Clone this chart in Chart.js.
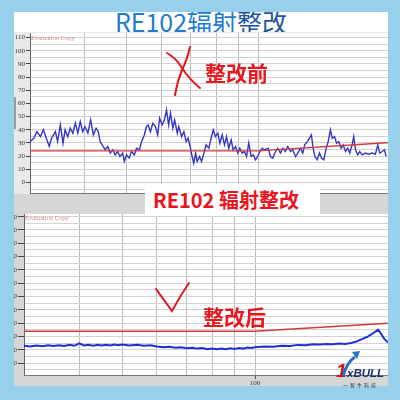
<!DOCTYPE html>
<html>
<head>
<meta charset="utf-8">
<script src="https://cdn.jsdelivr.net/npm/chart.js@4"></script>
<style>
body { margin: 0; width: 400px; height: 400px; background: #98d0ec; position: relative; overflow: hidden; font-family: "Noto Sans CJK SC", "Noto Sans", sans-serif; }
#panel { position: absolute; left: 14px; top: 12px; width: 374px; height: 374px; background: #d6d6d6; overflow: hidden; }
#titleBand { position: absolute; left: 0; top: 0; width: 374px; height: 20px; background: #fff; }
#title { position: absolute; left: 0; top: -6px; width: 374px; text-align: center; font-size: 25px; line-height: 30px; color: #1f7ccc; }
#title span { color: #1c5598; }
canvas { position: absolute; }
#topWrap { left: 0; top: 20px; background: #e9e9e9; }
#botWrap { left: -6px; top: 201px; }
.evalc { position: absolute; font-family: "Liberation Serif", serif; font-size: 6.5px; color: #cf8a8a; }
.big { position: absolute; font-weight: 700; color: #e8161e; font-size: 21px; line-height: 24px; white-space: nowrap; }
#midBox { position: absolute; left: 145px; top: 184px; width: 175px; height: 32px; background: #fff; }
#logo1 { position: absolute; left: 336px; top: 360px; font-family: "Liberation Sans", sans-serif; font-style: italic; font-weight: 700; font-size: 19px; color: #d3141c; }
#logo2 { position: absolute; left: 347px; top: 367px; font-family: "Liberation Sans", sans-serif; font-style: italic; font-weight: 700; font-size: 11.5px; color: #1d2f6a; }
#logo3 { position: absolute; left: 343px; top: 381px; font-size: 5px; color: #333; letter-spacing: 2px; }
</style>
</head>
<body>
<div id="panel">
  <div id="titleBand"></div>
  <div id="title">RE102辐射<span>整改</span></div>
  <canvas id="topWrap" width="376" height="162"></canvas>
  <canvas id="botWrap" width="380" height="175"></canvas>
  <div style="position:absolute;left:0;top:85px;width:2px;height:32px;background:#9a9a9a"></div>
</div>
<div class="evalc" style="left:31px;top:34px">Evaluation Copy</div>
<div class="evalc" style="left:25px;top:214px">Evaluation Copy</div>
<div class="big" style="left:205px;top:60px">整改前</div>
<div id="midBox"></div>
<div class="big" style="left:153px;top:188px;font-size:20px">RE102 辐射整改</div>
<div class="big" style="left:203px;top:304px">整改后</div>
<div id="logo1">1</div>
<div id="logo2">xBULL</div>
<div id="logo3">一智牛科技</div>
<svg width="400" height="400" style="position:absolute;left:0;top:0" fill="none">
  <path d="M167,53 Q176,58 182,68 Q190,80 200,88" stroke="#e3141a" stroke-width="2" stroke-linecap="round"/>
  <path d="M190,47 Q187,60 182,70 Q177,82 175,95" stroke="#e3141a" stroke-width="2" stroke-linecap="round"/>
  <path d="M156,289 Q164,300 172,311 Q180,296 189,283" stroke="#e3141a" stroke-width="2" stroke-linecap="round"/>
  <path d="M343,376 Q347,362 355,357" stroke="#2a6fc2" stroke-width="3"/>
  <polygon points="352,352 360,351 357,359" fill="#2a6fc2"/>
</svg>
<script>
// top trace (before fix)
const topFreq = [30.0,30.6,31.1,31.7,32.2,32.8,33.2,33.6,34.3,34.7,35.2,35.7,36.1,36.6,37.1,37.6,38.1,38.6,39.1,39.6,
  40.1,40.7,41.3,41.9,42.5,43.0,43.4,43.9,44.6,45.2,45.8,46.4,47.0,47.6,48.2,48.9,49.3,49.9,50.6,51.2,
  52.0,52.6,53.4,54.0,54.8,55.4,55.9,56.6,57.3,58.1,58.8,59.4,60.2,60.9,61.6,62.3,62.9,63.7,64.3,65.2,
  65.7,66.7,67.5,68.3,69.0,69.9,70.5,71.1,71.8,72.4,73.3,74.1,75.0,75.9,77.0,77.9,78.8,79.7,80.7,81.6,
  82.6,83.6,84.5,85.5,86.6,87.5,88.6,89.7,90.6,91.8,92.9,93.9,95.0,96.2,97.3,98.4,99.6,100.7,102.0,103.2,
  105.3,106.5,107.8,109.4,110.7,112.3,113.7,115.3,116.7,118.4,119.8,121.6,123.0,124.8,126.3,127.6,129.3,130.9,132.2,133.4,
  134.6,136.3,137.9,139.4,141.1,142.9,144.4,146.1,147.5,149.3,150.9,152.7,154.6,156.3,158.2,160.1,161.8,163.8,165.2,166.7,
  168.7,170.5,172.7,175.7,178.8,182.1,185.2,187.5,189.5,191.9,194.2,196.0];
const topLevel = [31,33.6,38.6,34.8,40,32.3,27.3,33.6,38.6,31,43.7,29.8,40,34.8,41.2,37.4,45,37.4,46.2,38.6,
  42.4,37.4,47.5,36.1,41.2,38.6,31,28.6,24.8,27.3,22.3,24.8,21,23.5,19.7,22.3,15.9,21,18.5,23.5,
  21,26,24.8,31,36.1,42.4,43.7,38.6,45,42.4,36.1,48.8,43.7,47.5,55,43.7,52.6,41.2,47.5,37.4,
  42.4,34.8,38.6,31,33.6,26,19.7,14.7,22.3,15.9,19.7,15.9,22.3,28.6,26,33.6,40,34.8,37.4,29.8,
  36.1,28.6,34.8,26,32.3,24.8,27.3,22.3,26,22.3,23.5,19.7,30,19.7,21,17.2,19.7,23.5,26,24.8,
  26,19.7,18.5,23.5,26,22.3,26,23.5,27.3,23.5,24.8,19.7,22.3,26,22.3,28.6,31,33.6,36.1,26,
  19.7,17.2,22.3,18.5,17.2,26,31,40,33.6,34.8,29.8,31,26,28.6,23.5,26,22.3,28.6,34.8,24.8,
  21,23.5,21,22.3,21.5,22.3,21.5,28.6,22.3,23.5,24.8,19.7];

// bottom trace (after fix)
const botFreq = [30,31,32,33,34,35,36,37,38,39,40,41,42,43,44,45,46,47,48,49,50,
  52,54,56,58,60,62,64,66,68,70,72,74,76,78,80,82,84,86,88,90,92,94,96,98,100,
  105,110,115,120,125,130,135,140,145,150,155,160,165,170,175,180,185,190,193,196,200];
const botLevel = [13.2,12.6,13.4,12.8,13.5,12.9,13.6,13.0,13.8,13.1,15.0,13.4,13.8,13.2,13.9,13.3,13.9,13.4,14.0,13.5,14.1,
  13.4,13.9,13.2,13.6,12.6,12.0,12.4,11.6,12.0,11.3,11.7,11.0,11.4,10.6,11.0,10.5,11.1,10.6,11.2,10.8,11.5,11.0,11.8,11.4,12.0,
  12.6,12.4,13.2,13.0,13.8,13.5,14.3,14.0,14.5,14.2,14.8,14.5,15.2,16.4,18.3,20.0,22.5,25.2,22.0,18.5,15.5];

// limit line
const limFreq = [30, 100, 200];
const topLimit = [24, 24, 30.3];
const botLimit = [24, 24, 30];

const yGrid = [-5,0,5,10,15,20,25,30,35,40,45,50,55,60,65,70,75,80,85,90,95,100,105,110];
const xGrid = [40, 50, 60, 70, 80, 90, 100];

const plotBg = {
    id: 'plotBg',
    beforeDraw(chart) {
        const a = chart.chartArea, ctx = chart.ctx;
        ctx.save();
        ctx.fillStyle = '#fff';
        ctx.fillRect(a.left, a.top, a.width, a.height);
        ctx.restore();
    }
};

function pts(xs, ys) {
    return xs.map((x, i) => ({ x: x, y: ys[i] }));
}

function emcChart(id, level, freq, limit, traceColor, traceWidth, yMin, yMax, showX, yTick) {
    new Chart(document.getElementById(id), {
        type: 'line',
        data: {
            datasets: [{
                data: pts(limFreq, limit),
                borderColor: '#d23a3a',
                borderWidth: 1.4
            }, {
                data: pts(freq, level),
                borderColor: traceColor,
                borderWidth: traceWidth
            }]
        },
        options: {
            responsive: false,
            animation: false,
            devicePixelRatio: 1,
            layout: { padding: 0 },
            elements: { point: { radius: 0 }, line: { tension: 0 } },
            plugins: { legend: { display: false }, tooltip: { enabled: false } },
            scales: {
                x: {
                    type: 'logarithmic',
                    min: 30, max: 200,
                    afterBuildTicks: s => { s.ticks = xGrid.map(v => ({ value: v })); },
                    afterFit: s => { s.height = showX ? 13 : 0; },
                    grid: {
                        color: '#bcbcbc',
                        drawTicks: showX,
                        tickLength: 4,
                        tickColor: c => (c.tick && c.tick.value === 100) ? '#555' : 'rgba(0,0,0,0)'
                    },
                    border: { display: true, color: '#777' },
                    ticks: {
                        display: showX,
                        autoSkip: false,
                        maxRotation: 0,
                        padding: 0,
                        color: '#333',
                        font: { family: 'Liberation Serif', size: 7 },
                        callback: v => v === 100 ? '100' : ''
                    }
                },
                y: {
                    min: yMin, max: yMax,
                    afterBuildTicks: s => { s.ticks = yGrid.map(v => ({ value: v })); },
                    afterFit: s => { s.width = 16; },
                    grid: {
                        color: '#d2d2d2',
                        tickLength: yTick,
                        tickColor: c => (c.tick && c.tick.value % 10 === 0) ? '#444' : 'rgba(0,0,0,0)'
                    },
                    border: { display: true, color: '#666' },
                    ticks: {
                        padding: 1,
                        color: '#333',
                        font: { family: 'Liberation Serif', size: 7, lineHeight: 0 },
                        callback: v => v % 10 === 0 ? String(v) : ''
                    }
                }
            }
        },
        plugins: [plotBg]
    });
}

emcChart('topWrap', topLevel, topFreq, topLimit, '#3535c6', 1.4, -8, 113.5, false, 4);
emcChart('botWrap', botLevel, botFreq, botLimit, '#1e2fd2', 2, -8.8, 112, true, 6);
</script>
</body>
</html>
